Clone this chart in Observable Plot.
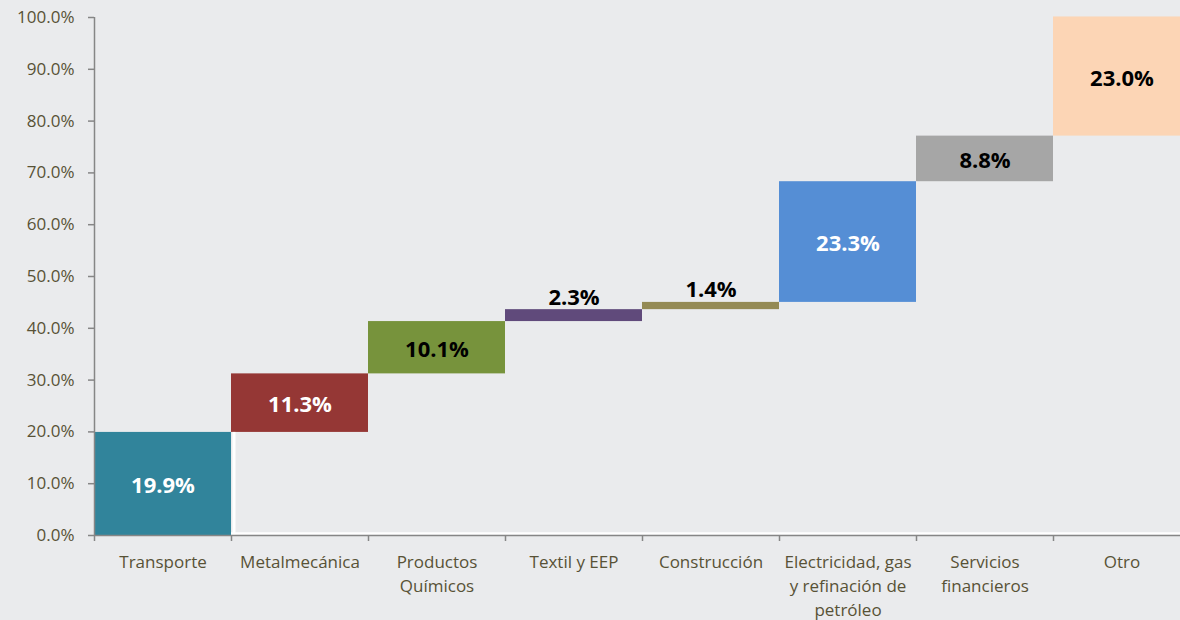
<!DOCTYPE html>
<html>
<head>
<meta charset="utf-8">
<script src="https://cdn.jsdelivr.net/npm/d3@7"></script>
<script src="https://cdn.jsdelivr.net/npm/@observablehq/plot@0.6"></script>
<style>
  html, body { margin: 0; padding: 0; background: #eaebed; overflow: hidden; }
  #chart { width: 1190px; height: 620px; }
  #chart svg { display: block; background: #eaebed; max-width: none !important; width: 1190px !important; height: 620px !important; }
</style>
</head>
<body>
<div id="chart"></div>
<script>
const categories = ["Transporte", "Metalmecánica", "Productos\nQuímicos", "Textil y EEP", "Construcción", "Electricidad, gas\ny refinación de\npetróleo", "Servicios\nfinancieros", "Otro"];
const values = [19.9, 11.3, 10.1, 2.3, 1.4, 23.3, 8.8, 23.0];
const barColors = ["#31849b", "#953735", "#77933c", "#604a7b", "#948a54", "#558ed5", "#a6a6a6", "#fcd5b5"];
const labelColors = ["#ffffff", "#ffffff", "#000000", "#000000", "#000000", "#ffffff", "#000000", "#000000"];
const labelAbove = [false, false, false, true, true, false, false, false];
const yTicks = [0, 10, 20, 30, 40, 50, 60, 70, 80, 90, 100];

const ends = Array.from(d3.cumsum(values));
const data = categories.map((c, i) => ({
  i, cat: c, value: values[i],
  start: ends[i] - values[i], end: ends[i],
  color: barColors[i], labelColor: labelColors[i], above: labelAbove[i]
}));
const xBounds = d3.range(0, categories.length + 1);

const axisGray = "#868686";
const textCol = "#585236";
const font = "'Open Sans', 'DejaVu Sans', sans-serif";

const chart = Plot.plot({
  width: 1190,
  height: 620,
  marginLeft: 94,
  marginRight: 0,
  marginTop: 17,
  marginBottom: 85,
  style: { background: "#eaebed", fontFamily: font, maxWidth: "none" },
  x: { type: "linear", domain: [0, categories.length], axis: null },
  y: { domain: [0, 100], axis: null },
  marks: [
    Plot.rectY(data, { x1: d => d.i, x2: d => d.i + 1, y1: "start", y2: "end", fill: "color" }),
    // white outline of hidden base series
    Plot.ruleY([0], { x1: 1, x2: categories.length, stroke: "#ffffff", strokeWidth: 2.5, dy: -2 }),
    Plot.ruleX([1], { y1: 0, y2: values[0], stroke: "#ffffff", strokeWidth: 3, dx: 2.5 }),
    // axes lines
    Plot.ruleX([0], { y1: 0, y2: 100, stroke: axisGray, strokeWidth: 1.5 }),
    Plot.ruleY([0], { x1: 0, x2: categories.length, stroke: axisGray, strokeWidth: 1.5 }),
    Plot.axisY({
      ticks: yTicks, tickFormat: d => d.toFixed(1) + "%", tickSize: 6, tickPadding: 14,
      stroke: axisGray, strokeWidth: 1.5, fill: textCol, fontSize: 17, label: null, color: textCol
    }),
    Plot.axisX({
      ticks: xBounds, tickFormat: () => "", tickSize: 6, stroke: axisGray, strokeWidth: 1.5, label: null
    }),
    // category labels
    Plot.text(data, {
      x: d => d.i + 0.5, y: () => 0, text: "cat", lineAnchor: "top", dy: 15,
      fontSize: 17, lineHeight: 1.42, fill: textCol
    }),
    // value labels inside
    Plot.text(data.filter(d => !d.above), {
      x: d => d.i + 0.5, y: d => (d.start + d.end) / 2, text: d => d.value.toFixed(1) + "%",
      fill: "labelColor", fontSize: 22, fontWeight: "bold", dy: 2
    }),
    // value labels above
    Plot.text(data.filter(d => d.above), {
      x: d => d.i + 0.5, y: "end", text: d => d.value.toFixed(1) + "%",
      fill: "labelColor", fontSize: 22, fontWeight: "bold", dy: -12
    })
  ]
});
document.getElementById("chart").appendChild(chart);
</script>
</body>
</html>
